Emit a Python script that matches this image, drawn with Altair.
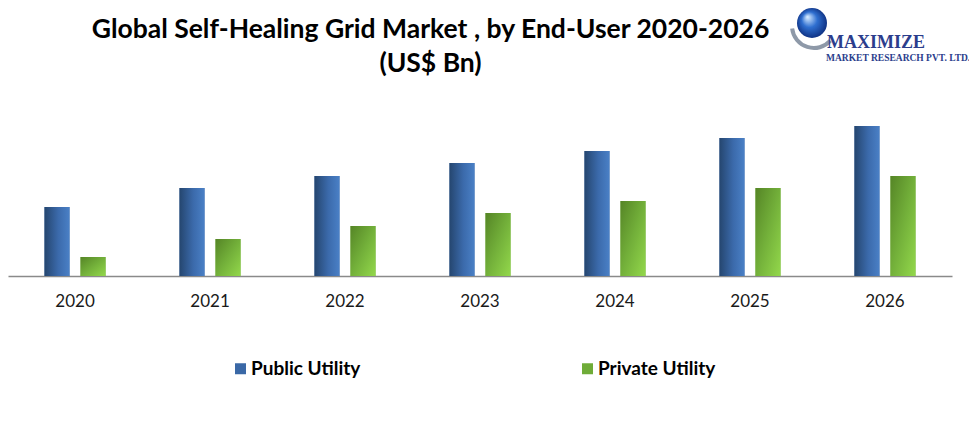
import altair as alt
import pandas as pd

years = ["2020", "2021", "2022", "2023", "2024", "2025", "2026"]
series = ["Public Utility", "Private Utility"]
public_vals = [1.38, 1.76, 2.00, 2.26, 2.50, 2.76, 3.00]
private_vals = [0.38, 0.74, 1.00, 1.26, 1.50, 1.76, 2.00]
title_lines = ["Global Self-Healing Grid Market , by End-User 2020-2026", "(US$ Bn)"]

rows = []
for y, p, q in zip(years, public_vals, private_vals):
    rows.append({"year": y, "series": series[0], "value": p})
    rows.append({"year": y, "series": series[1], "value": q})
df = pd.DataFrame(rows)

FONT = "Lato"

grad_pub = alt.LinearGradient(
    gradient="linear", x1=0, y1=0, x2=1, y2=0,
    stops=[alt.GradientStop(offset=0, color="#25466f"),
           alt.GradientStop(offset=0.55, color="#3b6aab"),
           alt.GradientStop(offset=1, color="#4a80c6")])
grad_priv = alt.LinearGradient(
    gradient="linear", x1=0, y1=0, x2=1, y2=1,
    stops=[alt.GradientStop(offset=0, color="#558526"),
           alt.GradientStop(offset=0.5, color="#73b03a"),
           alt.GradientStop(offset=1, color="#93d84b")])
grad_globe = alt.RadialGradient(
    gradient="radial", x1=0.35, y1=0.3, r1=0.02, x2=0.5, y2=0.5, r2=0.55,
    stops=[alt.GradientStop(offset=0, color="#cfe6ff"),
           alt.GradientStop(offset=0.45, color="#2f6fd0"),
           alt.GradientStop(offset=1, color="#0b2a7a")])

base = alt.Chart(df).encode(
    x=alt.X("year:N", sort=years,
            scale=alt.Scale(paddingInner=0.548, paddingOuter=0.2705),
            axis=alt.Axis(title=None, labelAngle=0, ticks=False,
                          labelFont=FONT, labelFontSize=17, labelColor="#1a1a1a",
                          labelPadding=17, domainColor="#8a8a8a", domainWidth=1.5)),
    xOffset=alt.XOffset("series:N", sort=series,
                        scale=alt.Scale(paddingInner=0.306, paddingOuter=0)),
    y=alt.Y("value:Q", scale=alt.Scale(domain=[0, 3.4]), axis=None),
)

bars = base.mark_bar().encode(
    color=alt.Color("series:N", sort=series,
                    scale=alt.Scale(domain=series, range=["#3a68a6", "#6fac38"]),
                    legend=alt.Legend(orient="none", legendX=223, legendY=253,
                                      direction="horizontal", title=None,
                                      symbolType="square", symbolSize=121,
                                      symbolStrokeWidth=0, labelFont=FONT,
                                      labelFontSize=19, labelFontWeight="bold",
                                      labelColor="black", labelOffset=1,
                                      columnPadding=217, padding=0))
)
pub_layer = base.mark_bar(fill=grad_pub).transform_filter(alt.datum.series == series[0])
priv_layer = base.mark_bar(fill=grad_priv).transform_filter(alt.datum.series == series[1])

title_df = pd.DataFrame({"t1": [title_lines[0]], "t2": [title_lines[1]]})
title1 = alt.Chart(title_df).mark_text(font=FONT, fontSize=26.5, fontWeight="bold",
                                       color="black", align="center",
                                       baseline="alphabetic").encode(
    x=alt.value(422.5), y=alt.value(-68), text="t1:N")
title2 = alt.Chart(title_df).mark_text(font=FONT, fontSize=26.5, fontWeight="bold",
                                       color="black", align="center",
                                       baseline="alphabetic").encode(
    x=alt.value(422.5), y=alt.value(-34), text="t2:N")

logo_df = pd.DataFrame({"a": ["MAXIMIZE"], "b": ["MARKET RESEARCH PVT. LTD."]})
swoosh = alt.Chart(logo_df).mark_arc(color="#8e99a8", radius=20, radius2=24,
                                     theta=2.3, theta2=4.6).encode(
    x=alt.value(806), y=alt.value(-80))
globe = alt.Chart(logo_df).mark_circle(fill=grad_globe, opacity=1, size=900).encode(
    x=alt.value(804), y=alt.value(-83))
logo1 = alt.Chart(logo_df).mark_text(font="Liberation Serif", fontWeight="bold",
                                     fontSize=18, color="#2b3d8c", align="left",
                                     baseline="alphabetic").encode(
    x=alt.value(819), y=alt.value(-58), text="a:N")
logo2 = alt.Chart(logo_df).mark_text(font="Liberation Serif", fontWeight="bold",
                                     fontSize=9.5, color="#2b3d8c", align="left",
                                     baseline="alphabetic").encode(
    x=alt.value(818), y=alt.value(-45), text="b:N")

chart = alt.layer(bars, pub_layer, priv_layer, title1, title2, swoosh, globe,
                  logo1, logo2).properties(
    width=944, height=170, background="white",
    autosize=alt.AutoSizeParams(type="none"),
    padding={"left": 0, "top": 98, "right": 17, "bottom": 141},
).configure_view(strokeWidth=0, stroke="transparent")

chart.save("out.html", embed_options={"renderer": "svg", "actions": False})
